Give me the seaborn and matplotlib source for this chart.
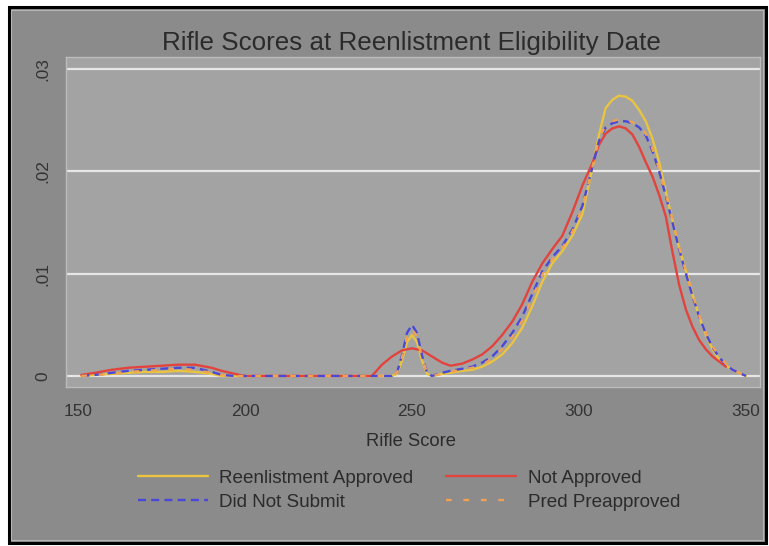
import numpy as np
import pandas as pd
import matplotlib
matplotlib.use("Agg")
import matplotlib.pyplot as plt
from matplotlib.patches import Rectangle
from matplotlib.lines import Line2D
import seaborn as sns

# Kernel density estimates of rifle score, by reenlistment outcome
score = [151, 155, 160, 165, 170, 175, 180, 185, 190, 193,
         197, 200, 210, 220, 230, 238, 241, 244, 245.5, 247,
         248.5, 250, 251.5, 253, 254.5, 256, 259, 261.5, 265, 268,
         271, 274, 277, 280, 283, 286, 289, 292, 295, 298,
         301, 304, 306, 308, 310, 312, 314, 316, 318, 320,
         322, 324, 326, 328, 330, 332, 334, 336, 338, 340,
         342, 344, 346, 348, 350]

approved = [0, 0.0001, 0.0002, 0.0003, 0.0004, 0.0004, 0.0005, 0.0004, 0.0002, 0,
            0, 0, 0, 0, 0, 0, 0, 0, 0.0002, 0.0015,
            0.0033, 0.0040, 0.0033, 0.0015, 0.0002, 0, 0.0002, 0.0003, 0.0005, 0.0006,
            0.0009, 0.0014, 0.0021, 0.0032, 0.0047, 0.0068, 0.0092, 0.0110, 0.0122, 0.0137,
            0.0158, 0.0203, 0.0236, 0.0262, 0.0270, 0.0274, 0.0273, 0.0269, 0.0260, 0.0249,
            0.0232, 0.0209, 0.0180, 0.0152, 0.0125, 0.0103, 0.0080, 0.0058, 0.0040, 0.0026,
            0.0016, 0.0010, 0.0006, 0.0003, 0]

not_approved = [0.0001, 0.0003, 0.0006, 0.0008, 0.0009, 0.0010, 0.0011, 0.0011, 0.0008, 0.0005,
                0.0002, 0, 0, 0, 0, 0, 0.0011, 0.0019, 0.0022, 0.0025,
                0.0026, 0.0027, 0.0026, 0.0025, 0.0022, 0.0019, 0.0013, 0.0010, 0.0012, 0.0016,
                0.0021, 0.0029, 0.0040, 0.0053, 0.0070, 0.0092, 0.0110, 0.0124, 0.0137, 0.0160,
                0.0186, 0.0208, 0.0226, 0.0237, 0.0242, 0.0244, 0.0242, 0.0236, 0.0224, 0.0209,
                0.0195, 0.0177, 0.0156, 0.0121, 0.0089, 0.0065, 0.0048, 0.0035, 0.0026, 0.0019,
                0.0014, 0.0009, np.nan, np.nan, np.nan]

did_not_submit = [0, 0.0001, 0.0003, 0.0005, 0.0006, 0.0007, 0.0008, 0.0008, 0.0004, 0.0001,
                  0, 0, 0, 0, 0, 0, 0, 0, 0.0003, 0.0020,
                  0.0042, 0.0050, 0.0042, 0.0020, 0.0003, 0, 0.0003, 0.0005, 0.0007, 0.0009,
                  0.0013, 0.0019, 0.0029, 0.0042, 0.0058, 0.0080, 0.0102, 0.0116, 0.0127, 0.0143,
                  0.0166, 0.0204, 0.0230, 0.0243, 0.0247, 0.0249, 0.0249, 0.0247, 0.0243, 0.0235,
                  0.0220, 0.0200, 0.0176, 0.0150, 0.0124, 0.0100, 0.0078, 0.0058, 0.0041, 0.0028,
                  0.0018, 0.0011, 0.0006, 0.0003, 0]

pred_preapproved = [0, 0.0001, 0.0002, 0.0004, 0.0005, 0.0006, 0.0007, 0.0006, 0.0003, 0.0001,
                    0, 0, 0, 0, 0, 0, 0, 0, 0.0003, 0.0018,
                    0.0038, 0.0046, 0.0038, 0.0018, 0.0003, 0, 0.0002, 0.0004, 0.0006, 0.0008,
                    0.0011, 0.0017, 0.0026, 0.0038, 0.0054, 0.0076, 0.0099, 0.0114, 0.0125, 0.0141,
                    0.0164, 0.0204, 0.0232, 0.0245, 0.0249, 0.0251, 0.0250, 0.0248, 0.0244, 0.0237,
                    0.0222, 0.0202, 0.0178, 0.0152, 0.0126, 0.0102, 0.0080, 0.0059, 0.0042, 0.0029,
                    0.0019, 0.0012, 0.0006, 0.0003, 0]

groups = ["Reenlistment Approved", "Not Approved", "Did Not Submit", "Pred Preapproved"]
x_ticks = [150, 200, 250, 300, 350]
y_ticks = [0, 0.01, 0.02, 0.03]
y_tick_labels = ["0", ".01", ".02", ".03"]

df = pd.DataFrame({"score": score,
                   groups[0]: approved,
                   groups[1]: not_approved,
                   groups[2]: did_not_submit,
                   groups[3]: pred_preapproved})

styles = {
    groups[0]: dict(color="#e8c441", dashes=None),
    groups[1]: dict(color="#e3433d", dashes=None),
    groups[2]: dict(color="#4a48d8", dashes=(3.4, 2.2)),
    groups[3]: dict(color="#f2a152", dashes=(2.4, 5.0)),
}

sns.set_theme(style="white")
plt.rcParams["font.family"] = ["Liberation Sans", "DejaVu Sans"]

W, H = 769, 546
fig = plt.figure(figsize=(W / 100, H / 100), dpi=100)
fig.patch.set_facecolor("white")

# outer panel with black frame, kept behind the axes
fig.patches.append(Rectangle((8.5 / W, 1 - 542.5 / H), (765.5 - 8.5) / W, (542.5 - 7) / H,
                             transform=fig.transFigure, facecolor="#8b8b8b",
                             edgecolor="black", linewidth=2.2, zorder=-10))
fig.patches.append(Rectangle((11 / W, 1 - 540 / H), (763 - 11) / W, (540 - 9.5) / H,
                             transform=fig.transFigure, facecolor="none",
                             edgecolor="#b4b4b4", linewidth=0.8, zorder=-9))

ax = fig.add_axes([66 / W, 1 - 387 / H, (760 - 66) / W, (387 - 57) / H])
ax.set_facecolor("#a3a3a3")

for g in groups:
    st = styles[g]
    sns.lineplot(data=df, x="score", y=g, ax=ax, color=st["color"], linewidth=1.7)
    if st["dashes"] is not None:
        ax.lines[-1].set_dashes(st["dashes"])

ax.set_xlim(146.4, 354.2)
ax.set_ylim(-0.00108, 0.03118)
ax.set_xticks(x_ticks)
ax.set_yticks(y_ticks)
ax.set_yticklabels(y_tick_labels)
ax.set_xlabel("")
ax.set_ylabel("")
ax.grid(False)
for yv in y_ticks:
    ax.axhline(yv, color="#e6e6e6", linewidth=1.6, zorder=0.5)

for sp in ax.spines.values():
    sp.set_color("#bcbcbc")
    sp.set_linewidth(1.0)

ax.tick_params(axis="both", direction="out", length=5, width=0.9, color="#555555",
               labelcolor="#333333", labelsize=12.4)
ax.tick_params(axis="x", pad=7)
ax.tick_params(axis="y", pad=6, labelrotation=90)
for lab in ax.get_yticklabels():
    lab.set_verticalalignment("center")

fig.text(411.5 / W, 1 - 50 / H, "Rifle Scores at Reenlistment Eligibility Date",
         ha="center", va="baseline", fontsize=18.7, color="#2b2b2b")
fig.text(411.5 / W, 1 - 446 / H, "Rifle Score", ha="center", va="baseline",
         fontsize=13.2, color="#2b2b2b")

order = [groups[0], groups[2], groups[1], groups[3]]
handles = []
for g in order:
    st = styles[g]
    h = Line2D([0], [0], color=st["color"], linewidth=1.7)
    if st["dashes"] is not None:
        h.set_dashes(st["dashes"])
    handles.append(h)
leg = fig.legend(handles, order, ncol=2, loc="center",
                 bbox_to_anchor=(409 / W, 1 - 490 / H), frameon=False,
                 fontsize=13.6, handlelength=3.7, handletextpad=0.6,
                 columnspacing=1.75, labelspacing=0.35, borderpad=0)
for t in leg.get_texts():
    t.set_color("#2b2b2b")

fig.savefig("out.png", dpi=100, facecolor=fig.get_facecolor())
